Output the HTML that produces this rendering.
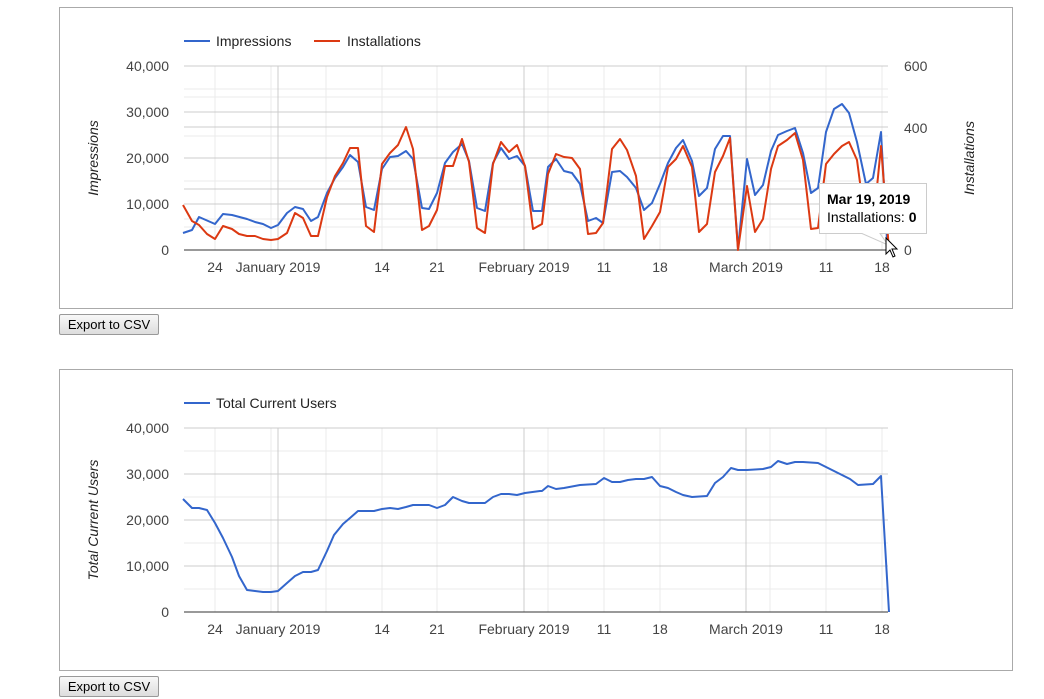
<!DOCTYPE html>
<html><head><meta charset="utf-8"><style>
body{margin:0;width:1044px;height:699px;background:#fff;overflow:hidden;font-family:"Liberation Sans",Arial,sans-serif}
.btn{position:absolute;left:59px;width:98px;height:19px;border:1px solid #999;border-radius:2px;background:linear-gradient(#f8f8f8,#ddd);font-size:13px;text-align:center;line-height:19px;color:#000}
</style></head><body>
<svg width="1044" height="699" style="position:absolute;left:0;top:0" font-family="Liberation Sans, Arial, sans-serif">
<rect x="59.5" y="7.5" width="953" height="301" fill="#fff" stroke="#aaa"/>
<rect x="59.5" y="369.5" width="953" height="301" fill="#fff" stroke="#aaa"/>
<!-- top grid -->
<g stroke="#ebebeb">
<line x1="184" x2="888" y1="89" y2="89"/><line x1="184" x2="888" y1="97" y2="97"/><line x1="184" x2="888" y1="136" y2="136"/><line x1="184" x2="888" y1="181" y2="181"/><line x1="184" x2="888" y1="219" y2="219"/><line x1="184" x2="888" y1="227" y2="227"/><line x1="184" x2="888" y1="158" y2="158"/>
<line x1="215" x2="215" y1="66" y2="250"/><line x1="271" x2="271" y1="66" y2="250"/><line x1="326" x2="326" y1="66" y2="250"/><line x1="382" x2="382" y1="66" y2="250"/><line x1="437" x2="437" y1="66" y2="250"/><line x1="548" x2="548" y1="66" y2="250"/><line x1="604" x2="604" y1="66" y2="250"/><line x1="660" x2="660" y1="66" y2="250"/><line x1="770" x2="770" y1="66" y2="250"/><line x1="826" x2="826" y1="66" y2="250"/><line x1="882" x2="882" y1="66" y2="250"/>
</g>
<g stroke="#ccc">
<line x1="184" x2="888" y1="66" y2="66"/><line x1="184" x2="888" y1="112" y2="112"/><line x1="184" x2="888" y1="127" y2="127"/><line x1="184" x2="888" y1="158" y2="158"/><line x1="184" x2="888" y1="189" y2="189"/><line x1="184" x2="888" y1="204" y2="204"/>
<line x1="278" x2="278" y1="66" y2="250"/><line x1="524" x2="524" y1="66" y2="250"/><line x1="746" x2="746" y1="66" y2="250"/>
</g>
<line x1="184" x2="888" y1="250" y2="250" stroke="#333"/>
<!-- bottom grid -->
<g stroke="#ebebeb">
<line x1="184" x2="888" y1="451" y2="451"/><line x1="184" x2="888" y1="497" y2="497"/><line x1="184" x2="888" y1="543" y2="543"/><line x1="184" x2="888" y1="589" y2="589"/>
<line x1="215" x2="215" y1="428" y2="612"/><line x1="271" x2="271" y1="428" y2="612"/><line x1="326" x2="326" y1="428" y2="612"/><line x1="382" x2="382" y1="428" y2="612"/><line x1="437" x2="437" y1="428" y2="612"/><line x1="548" x2="548" y1="428" y2="612"/><line x1="604" x2="604" y1="428" y2="612"/><line x1="660" x2="660" y1="428" y2="612"/><line x1="770" x2="770" y1="428" y2="612"/><line x1="826" x2="826" y1="428" y2="612"/><line x1="882" x2="882" y1="428" y2="612"/>
</g>
<g stroke="#ccc">
<line x1="184" x2="888" y1="428" y2="428"/><line x1="184" x2="888" y1="474" y2="474"/><line x1="184" x2="888" y1="520" y2="520"/><line x1="184" x2="888" y1="566" y2="566"/>
<line x1="278" x2="278" y1="428" y2="612"/><line x1="524" x2="524" y1="428" y2="612"/><line x1="746" x2="746" y1="428" y2="612"/>
</g>
<line x1="184" x2="888" y1="612" y2="612" stroke="#333"/>
<!-- top series -->
<polyline fill="none" stroke="#3366cc" stroke-width="2" stroke-linejoin="round" points="183,233 192,230 199,217 215,224 223,214 232,215 247,219 255,222 263,224 271,228 278,225 287,213 295,207 303,209 311,221 318,217 327,193 335,178 343,167 350,155 358,162 366,207 374,210 382,169 390,157 398,156 406,151 413,159 422,208 429,209 437,193 445,163 453,152 462,144 469,161 477,208 485,211 493,163 501,148 509,159 517,156 525,166 533,211 542,211 548,167 556,159 564,171 572,173 580,184 588,221 596,218 603,223 612,172 620,171 627,177 636,188 644,210 652,203 660,184 668,163 676,148 683,140 692,161 699,196 707,188 715,149 723,136 730,136 738,249 747,159 755,195 763,185 771,151 778,135 787,131 795,128 803,153 811,193 818,188 826,132 834,109 842,104 849,113 857,142 866,184 873,178 881,132 887,240"/>
<polyline fill="none" stroke="#dc3912" stroke-width="2" stroke-linejoin="round" points="183,205 192,221 199,225 207,234 215,239 223,226 232,229 239,234 247,236 255,236 263,239 271,240 278,239 287,233 295,213 303,218 311,236 318,236 327,197 335,176 343,163 350,148 358,148 366,226 374,232 382,164 390,153 398,145 406,127 413,149 422,230 429,226 437,210 445,166 453,166 462,139 469,162 477,228 485,233 493,164 501,142 509,152 517,145 525,166 533,229 542,224 548,174 556,154 564,157 572,158 580,169 588,234 596,233 603,223 612,149 620,139 627,150 636,176 644,239 652,226 660,212 668,167 676,159 683,146 692,167 699,232 707,224 715,172 723,156 730,138 738,250 747,186 755,232 763,219 771,169 778,146 787,140 795,133 803,160 811,229 818,228 826,164 834,154 842,146 849,142 857,160 866,228 873,228 881,146 889,250"/>
<!-- bottom series -->
<polyline fill="none" stroke="#3366cc" stroke-width="2" stroke-linejoin="round" points="183,499 192,508 199,508 207,510 215,523 223,538 232,557 239,576 247,590 255,591 263,592 271,592 278,591 287,583 295,576 303,572 311,572 318,570 327,551 334,535 343,524 350,518 358,511 374,511 382,509 390,508 398,509 406,507 413,505 429,505 437,508 445,505 453,497 462,501 469,503 485,503 493,497 501,494 509,494 517,495 525,493 540,491 542,491 548,486 556,489 564,488 580,485 596,484 604,478 612,482 620,482 628,480 636,479 644,479 652,477 660,486 668,488 676,492 683,495 692,497 707,496 715,483 723,477 731,468 738,470 747,470 763,469 771,467 778,461 787,464 795,462 803,462 818,463 826,467 834,471 850,479 858,485 873,484 881,476 889,612"/>
<!-- legends -->
<line x1="184" x2="210" y1="41" y2="41" stroke="#3366cc" stroke-width="2"/>
<text x="216" y="46" font-size="14" fill="#222">Impressions</text>
<line x1="314" x2="340" y1="41" y2="41" stroke="#dc3912" stroke-width="2"/>
<text x="347" y="46" font-size="14" fill="#222">Installations</text>
<line x1="184" x2="210" y1="403" y2="403" stroke="#3366cc" stroke-width="2"/>
<text x="216" y="408" font-size="14" fill="#222">Total Current Users</text>
<!-- axis labels top -->
<g font-size="14" fill="#444" text-anchor="end">
<text x="169" y="71">40,000</text><text x="169" y="117">30,000</text><text x="169" y="163">20,000</text><text x="169" y="209">10,000</text><text x="169" y="255">0</text>
<text x="169" y="433">40,000</text><text x="169" y="479">30,000</text><text x="169" y="525">20,000</text><text x="169" y="571">10,000</text><text x="169" y="617">0</text>
</g>
<g font-size="14" fill="#444">
<text x="904" y="71">600</text><text x="904" y="133">400</text><text x="904" y="194">200</text><text x="904" y="255">0</text>
</g>
<g font-size="14" fill="#444" text-anchor="middle">
<text x="215" y="272">24</text><text x="278" y="272">January 2019</text><text x="382" y="272">14</text><text x="437" y="272">21</text><text x="524" y="272">February 2019</text><text x="604" y="272">11</text><text x="660" y="272">18</text><text x="746" y="272">March 2019</text><text x="826" y="272">11</text><text x="882" y="272">18</text>
<text x="215" y="634">24</text><text x="278" y="634">January 2019</text><text x="382" y="634">14</text><text x="437" y="634">21</text><text x="524" y="634">February 2019</text><text x="604" y="634">11</text><text x="660" y="634">18</text><text x="746" y="634">March 2019</text><text x="826" y="634">11</text><text x="882" y="634">18</text>
</g>
<g font-size="14" fill="#222" font-style="italic" text-anchor="middle">
<text transform="translate(98,158) rotate(-90)">Impressions</text>
<text transform="translate(974,158) rotate(-90)">Installations</text>
<text transform="translate(98,520) rotate(-90)">Total Current Users</text>
</g>
<!-- tooltip -->
<path d="M819.5,183.5 H926.5 V233.5 H880 L888,245 L862,233.5 H819.5 Z" fill="#fff" stroke="#ccc"/>
<text x="827" y="204" font-size="14" font-weight="bold" fill="#000">Mar 19, 2019</text>
<text x="827" y="222" font-size="14" fill="#000">Installations: <tspan font-weight="bold">0</tspan></text>
<path d="M886,238 L886,254 L890,250 L893,257 L895,256 L892,249 L897,249 Z" fill="#fff" stroke="#000" stroke-width="1"/>
</svg>
<div class="btn" style="top:314px">Export to CSV</div>
<div class="btn" style="top:676px">Export to CSV</div>
</body></html>
